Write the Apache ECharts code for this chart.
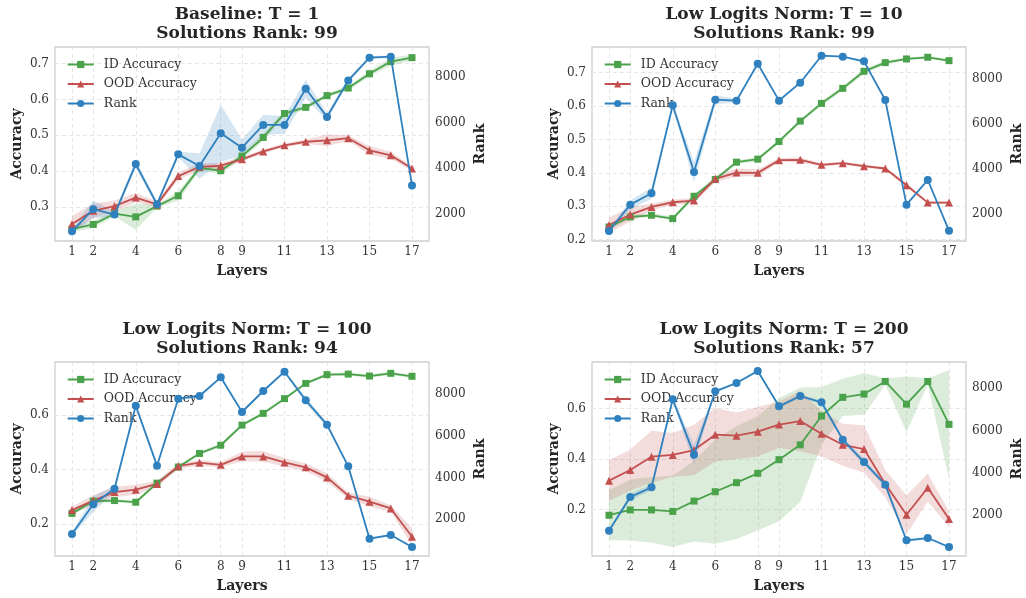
<!DOCTYPE html>
<html><head><meta charset="utf-8">
<script src="https://cdn.jsdelivr.net/npm/echarts@6/dist/echarts.min.js"></script>
<style>html,body{margin:0;padding:0;background:#fff}#c{width:1026px;height:598px}</style>
</head><body><div id="c"></div>
<script>
const layers = [1,2,3,4,5,6,7,8,9,10,11,12,13,14,15,16,17];
const xTickLabels = [1,2,4,6,8,9,11,13,15,17];
const rankTicks = [2000,4000,6000,8000];
const titles = ['Baseline: T = 1\nSolutions Rank: 99','Low Logits Norm: T = 10\nSolutions Rank: 99','Low Logits Norm: T = 100\nSolutions Rank: 94','Low Logits Norm: T = 200\nSolutions Rank: 57'];
const accTicks1 = [0.3,0.4,0.5,0.6,0.7];
const accTicks2 = [0.2,0.3,0.4,0.5,0.6,0.7];
const accTicks3 = [0.2,0.4,0.6];
const accTicks4 = [0.2,0.4,0.6];

// Panel 1: Baseline T=1
const id1 = [0.238,0.251,0.281,0.272,0.302,0.331,0.409,0.401,0.442,0.494,0.561,0.578,0.611,0.632,0.672,0.706,0.717];
const id1Std = [0.008,0.010,0.008,0.036,0.005,0.013,0.008,0.008,0.008,0.010,0.008,0.006,0.006,0.006,0.008,0.011,0.008];
const ood1 = [0.252,0.289,0.302,0.326,0.307,0.386,0.412,0.415,0.433,0.455,0.472,0.482,0.486,0.492,0.458,0.444,0.407];
const ood1Std = [0.022,0.020,0.016,0.013,0.008,0.010,0.010,0.008,0.006,0.006,0.005,0.006,0.016,0.008,0.012,0.010,0.006];
const rank1 = [1257,2218,1985,4184,2437,4607,4097,5524,4898,5888,5888,7461,6238,7825,8816,8859,3253];
const rank1Std = [120,380,120,180,120,130,550,1240,360,440,380,400,170,100,60,60,60];

// Panel 2: T=10
const id2 = [0.238,0.268,0.273,0.263,0.330,0.380,0.432,0.441,0.494,0.555,0.608,0.653,0.704,0.730,0.741,0.746,0.736];
const id2Std = [0.008,0.006,0.006,0.006,0.006,0.006,0.006,0.006,0.006,0.006,0.007,0.007,0.008,0.006,0.004,0.004,0.004];
const ood2 = [0.244,0.275,0.298,0.312,0.317,0.382,0.401,0.400,0.438,0.439,0.424,0.429,0.420,0.413,0.363,0.311,0.311];
const ood2Std = [0.022,0.022,0.010,0.008,0.008,0.010,0.012,0.010,0.006,0.008,0.005,0.005,0.005,0.004,0.006,0.004,0.004];
const rank2 = [1243,2416,2921,6842,3872,7094,7050,8698,7050,7851,9054,9010,8802,7079,2416,3515,1258];
const rank2Std = [80,200,250,80,450,200,80,100,60,60,40,40,60,60,60,60,60];

// Panel 3: T=100
const id3 = [0.239,0.284,0.286,0.280,0.350,0.409,0.459,0.489,0.563,0.606,0.660,0.716,0.748,0.750,0.743,0.753,0.742];
const id3Std = [0.006,0.006,0.006,0.006,0.006,0.006,0.006,0.006,0.006,0.006,0.006,0.006,0.006,0.006,0.006,0.006,0.006];
const ood3 = [0.251,0.286,0.317,0.326,0.347,0.412,0.425,0.417,0.448,0.448,0.426,0.408,0.371,0.304,0.282,0.257,0.153];
const ood3Std = [0.012,0.020,0.020,0.018,0.012,0.010,0.010,0.010,0.018,0.020,0.016,0.014,0.016,0.012,0.018,0.012,0.032];
const rank3 = [1296,2720,3472,7456,4576,7792,7920,8816,7152,8160,9088,7712,6544,4544,1072,1248,672];
const rank3Std = [80,380,150,80,80,80,60,60,60,60,60,150,120,60,40,40,40];

// Panel 4: T=200
const id4 = [0.178,0.199,0.199,0.193,0.234,0.271,0.307,0.344,0.398,0.457,0.571,0.645,0.658,0.708,0.618,0.708,0.538];
const id4Std = [0.099,0.121,0.130,0.141,0.160,0.206,0.223,0.226,0.244,0.227,0.115,0.074,0.082,0.013,0.110,0.013,0.214];
const ood4 = [0.315,0.357,0.410,0.417,0.436,0.497,0.493,0.509,0.537,0.551,0.501,0.457,0.440,0.302,0.180,0.287,0.163];
const ood4Std = [0.081,0.081,0.103,0.087,0.100,0.106,0.092,0.098,0.092,0.120,0.090,0.083,0.094,0.054,0.077,0.055,0.032];
const rank4 = [1276,2863,3318,7466,4858,7843,8236,8801,7136,7623,7325,5565,4512,3444,820,930,506];
const rank4Std = [60,150,150,120,450,80,60,60,80,80,80,120,150,120,60,60,60];

const GREEN = '#4aa24a', RED = '#c44f4f', BLUE = '#2f80be';
const FONT = 'DejaVu Serif';

const panels = [
  {grid:{left:55,top:47,width:374,height:194}, acc:[0.2047,0.7467], rank:[835,9282], accTicks:accTicks1,
   id:id1, idS:id1Std, ood:ood1, oodS:ood1Std, rk:rank1, rkS:rank1Std},
  {grid:{left:592,top:47,width:374,height:194}, acc:[0.196,0.7768], rank:[797,9441], accTicks:accTicks2,
   id:id2, idS:id2Std, ood:ood2, oodS:ood2Std, rk:rank2, rkS:rank2Std},
  {grid:{left:55,top:362,width:374,height:194}, acc:[0.0826,0.7945], rank:[240,9552], accTicks:accTicks3,
   id:id3, idS:id3Std, ood:ood3, oodS:ood3Std, rk:rank3, rkS:rank3Std},
  {grid:{left:592,top:362,width:374,height:194}, acc:[0.0165,0.785], rank:[83,9225], accTicks:accTicks4,
   id:id4, idS:id4Std, ood:ood4, oodS:ood4Std, rk:rank4, rkS:rank4Std}
];

const option = {
  backgroundColor:'#ffffff',
  animation:false,
  textStyle:{fontFamily:FONT},
  title:[], grid:[], xAxis:[], yAxis:[], legend:[], series:[]
};

function band(pi, yIdx, mean, std, color){
  const data = layers.map((x,i)=>[x, mean[i]-std[i], mean[i]+std[i]]);
  option.series.push({
    type:'custom', xAxisIndex:pi, yAxisIndex:yIdx, data:data, silent:true, z:1, clip:true,
    encode:{x:0, y:[1,2]},
    renderItem:function(params, api){
      if (params.dataIndex !== 0) return null;
      const top = data.map(d=>api.coord([d[0], d[2]]));
      const bot = data.map(d=>api.coord([d[0], d[1]])).reverse();
      return {type:'polygon', shape:{points:top.concat(bot)},
              style:{fill:color, opacity:0.2}};
    }
  });
}

panels.forEach((p,pi)=>{
  const cx = p.grid.left + p.grid.width/2;
  option.title.push({
    text:titles[pi], left:cx, textAlign:'center', top:p.grid.top-47,
    textStyle:{fontFamily:FONT, fontSize:17, fontWeight:'bold', color:'#262626', lineHeight:19}
  });
  option.grid.push(Object.assign({show:true, borderColor:'#cfcfcf', borderWidth:1.3, backgroundColor:'rgba(0,0,0,0)'}, p.grid));
  option.xAxis.push({
    type:'value', gridIndex:pi, min:0.2, max:17.8,
    name:'Layers', nameLocation:'middle', nameGap:23,
    nameTextStyle:{fontFamily:FONT, fontSize:14, fontWeight:'bold', color:'#262626'},
    axisLine:{show:false},
    axisTick:{show:false, customValues:xTickLabels},
    axisLabel:{customValues:xTickLabels, fontFamily:FONT, fontSize:12, color:'#333', margin:5},
    splitLine:{show:true, lineStyle:{color:'#e3e3e3', type:[4,3], width:0.9}}
  });
  option.yAxis.push({
    type:'value', gridIndex:pi, position:'left', min:p.acc[0], max:p.acc[1],
    name:'Accuracy', nameLocation:'middle', nameGap:31, nameRotate:90,
    nameTextStyle:{fontFamily:FONT, fontSize:14, fontWeight:'bold', color:'#262626'},
    axisLine:{show:false},
    axisTick:{show:false, customValues:p.accTicks},
    axisLabel:{customValues:p.accTicks, formatter:v=>v.toFixed(1), fontFamily:FONT, fontSize:12, color:'#333', margin:6},
    splitLine:{show:true, lineStyle:{color:'#e3e3e3', type:[4,3], width:0.9}}
  });
  option.yAxis.push({
    type:'value', gridIndex:pi, position:'right', min:p.rank[0], max:p.rank[1],
    name:'Rank', nameLocation:'middle', nameGap:44, nameRotate:90,
    nameTextStyle:{fontFamily:FONT, fontSize:14, fontWeight:'bold', color:'#262626'},
    axisLine:{show:false},
    axisTick:{show:false, customValues:rankTicks},
    axisLabel:{customValues:rankTicks, formatter:v=>String(Math.round(v)), fontFamily:FONT, fontSize:12, color:'#333', margin:6},
    splitLine:{show:false}
  });
  const ay = pi*2, ry = pi*2+1;
  band(pi, ay, p.id, p.idS, GREEN);
  option.series.push({
    name:'ID Accuracy', type:'line', xAxisIndex:pi, yAxisIndex:ay,
    data:layers.map((x,i)=>[x,p.id[i]]), symbol:'rect', symbolSize:7,
    itemStyle:{color:GREEN}, lineStyle:{color:GREEN, width:1.8}, z:3
  });
  band(pi, ay, p.ood, p.oodS, RED);
  option.series.push({
    name:'OOD Accuracy', type:'line', xAxisIndex:pi, yAxisIndex:ay,
    data:layers.map((x,i)=>[x,p.ood[i]]), symbol:'triangle', symbolSize:8,
    itemStyle:{color:RED}, lineStyle:{color:RED, width:1.8}, z:3
  });
  band(pi, ry, p.rk, p.rkS, BLUE);
  option.series.push({
    name:'Rank', type:'line', xAxisIndex:pi, yAxisIndex:ry,
    data:layers.map((x,i)=>[x,p.rk[i]]), symbol:'circle', symbolSize:8,
    itemStyle:{color:BLUE}, lineStyle:{color:BLUE, width:1.8}, z:4
  });
  option.legend.push({
    data:['ID Accuracy','OOD Accuracy','Rank'], orient:'vertical', padding:0,
    left:p.grid.left+11.7, top:p.grid.top+11,
    itemWidth:26, itemHeight:9, itemGap:6.5,
    textStyle:{fontFamily:FONT, fontSize:12.5, color:'#333', lineHeight:12, padding:[0,0,0,5]},
    selectedMode:false
  });
});

const chart = echarts.init(document.getElementById('c'), null, {renderer:'canvas'});
chart.setOption(option);
</script>
</body></html>
